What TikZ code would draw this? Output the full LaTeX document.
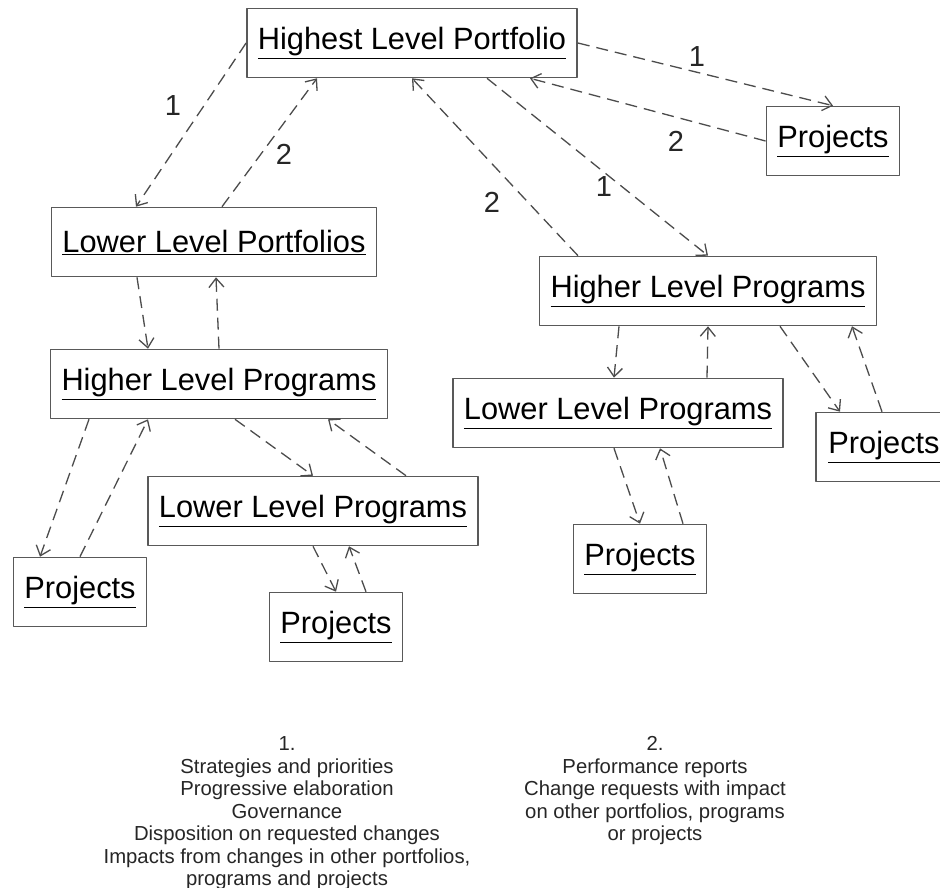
\documentclass[tikz,border=0pt]{standalone}
\usepackage{fontspec}
\setmainfont{Liberation Sans}
\usetikzlibrary{arrows.meta}
\definecolor{boxgray}{rgb}{0.35,0.35,0.35}
\definecolor{dashgray}{rgb}{0.3,0.3,0.3}

\begin{document}
\begin{tikzpicture}[x=1pt,y=-1pt,line cap=butt,line join=round,
  >={Straight Barb[length=9pt,width=15pt,line width=1.3pt]},
  box/.style={draw=boxgray,line width=1.6pt,fill=white,inner xsep=11pt,minimum height=69pt,
    font=\fontsize{30.8}{35}\selectfont},
  link/.style={->,draw=dashgray,line width=1.3pt,dash pattern=on 12pt off 7pt},
  lbl/.style={font=\fontsize{29}{33}\selectfont,text=black!85},
  note/.style={align=center,anchor=north,font=\fontsize{20.3}{22.5}\selectfont,text=black!85}]
\useasboundingbox (0,0) rectangle (940,888);
\fill[white] (0,0) rectangle (940,888);
% boxes
\node[box] (top) at (412,43) {\underline{Highest Level Portfolio}};
\node[box] (projA) at (833,141) {\underline{Projects}};
\node[box] (lowport) at (214,242) {\underline{Lower Level Portfolios}};
\node[box] (highprogR) at (708,291) {\underline{Higher Level Programs}};
\node[box] (highprogL) at (219,384) {\underline{Higher Level Programs}};
\node[box] (lowprogR) at (618,413) {\underline{Lower Level Programs}};
\node[box,minimum width=136pt] (projB) at (884,447) {\underline{Projects}};
\node[box] (lowprogL) at (313,511) {\underline{Lower Level Programs}};
\node[box] (projC) at (640,559) {\underline{Projects}};
\node[box] (projD) at (80,592) {\underline{Projects}};
\node[box] (projE) at (336,627) {\underline{Projects}};
% top level links
\draw[link] (top.west) -- ([xshift=-78pt]lowport.north);
\draw[link] ([xshift=8pt]lowport.north) -- ([xshift=-95pt]top.south);
\draw[link] (top.east) -- (projA.north);
\draw[link] (projA.west) -- ([xshift=118pt]top.south);
\draw[link] ([xshift=-130pt]highprogR.north) -- (top.south);
\draw[link] ([xshift=75pt]top.south) -- (highprogR.north);
% left branch
\draw[link] ([xshift=-77pt]lowport.south) -- ([xshift=-71pt]highprogL.north);
\draw[link] (highprogL.north) -- ([xshift=2pt]lowport.south);
\draw[link] ([xshift=-130pt]highprogL.south) -- ([xshift=-40pt]projD.north);
\draw[link] (projD.north) -- ([xshift=-71pt]highprogL.south);
\draw[link] ([xshift=16pt]highprogL.south) -- (lowprogL.north);
\draw[link] ([xshift=93pt]lowprogL.north) -- ([xshift=109pt]highprogL.south);
\draw[link] (lowprogL.south) -- (projE.north);
\draw[link] ([xshift=30pt]projE.north) -- ([xshift=36pt]lowprogL.south);
% right branch
\draw[link] ([xshift=-89pt]highprogR.south) -- ([xshift=-4pt]lowprogR.north);
\draw[link] ([xshift=89pt]lowprogR.north) -- (highprogR.south);
\draw[link] ([xshift=72pt]highprogR.south) -- ([xshift=-44pt]projB.north);
\draw[link] ([xshift=-2pt]projB.north) -- ([xshift=144pt]highprogR.south);
\draw[link] ([xshift=-4pt]lowprogR.south) -- (projC.north);
\draw[link] ([xshift=43pt]projC.north) -- ([xshift=42pt]lowprogR.south);
% link numbers
\node[lbl] (n1a) at (173,106) {1};
\node[lbl] (n2a) at (284,154) {2};
\node[lbl] (n1b) at (697,57) {1};
\node[lbl] (n2b) at (676,141) {2};
\node[lbl] (n2c) at (492,202) {2};
\node[lbl] (n1c) at (604,187) {1};
% legend
\node[note] (legA) at (287,733) {1.\\Strategies and priorities\\Progressive elaboration\\Governance\\Disposition on requested changes\\Impacts from changes in other portfolios,\\programs and projects};
\node[note] (legB) at (655,733) {2.\\Performance reports\\Change requests with impact\\on other portfolios, programs\\or projects};
\end{tikzpicture}
\end{document}
